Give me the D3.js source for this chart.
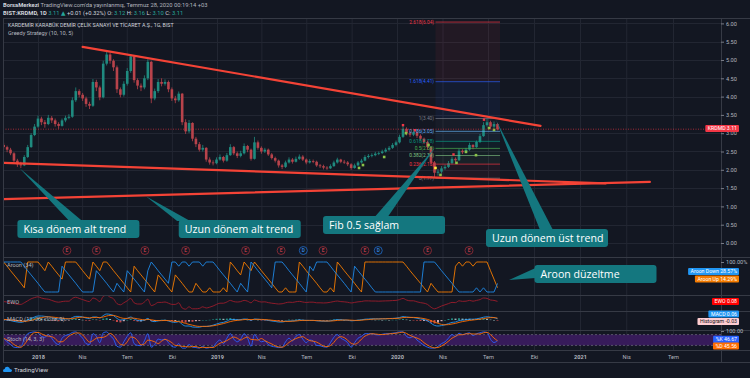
<!doctype html>
<html>
<head>
<meta charset="utf-8">
<script src="https://cdn.jsdelivr.net/npm/d3@7"></script>
<style>
  body { margin: 0; background: #131722; }
  svg { display: block; font-family: Roboto, "Open Sans", "DejaVu Sans", sans-serif; }
</style>
</head>
<body>
<svg width="750" height="378"></svg>
<script>
// KRDMD (first bar: week of 23 Oct 2017)
var firstWeek = "2017-10-23";
var firstOpen = 2.68;
var closes = [
  2.62,2.55,2.45,2.25,2.15,2.12,2.35,2.62,2.95,3.18,
  3.4,3.3,3.25,3.42,3.35,3.25,3.2,3.35,3.42,3.45,
  3.9,4.15,4.05,3.95,3.8,3.75,4.4,4.25,3.98,4.9,
  5.15,4.98,4.8,4.2,4.05,4.35,4.7,5.1,4.45,4.3,
  4.25,4.5,4.95,3.95,4.15,4.4,4.35,4.4,4.2,3.95,
  3.9,4.08,3.3,3.05,3.28,2.85,2.7,2.55,2.6,2.28,
  2.2,2.18,2.28,2.35,2.25,2.4,2.62,2.45,2.38,2.45,
  2.65,2.55,2.3,2.75,2.6,2.5,2.55,2.42,2.32,2.25,
  2.12,2.08,2.2,2.28,2.22,2.3,2.36,2.28,2.2,2.24,
  2.22,2.12,2.1,2.06,2.04,2.1,2.2,2.28,2.22,2.2,
  2.15,2.05,2.12,2.2,2.25,2.35,2.38,2.4,2.44,2.46,
  2.5,2.55,2.6,2.68,2.75,2.9,3.12,3.0,2.96,3.02,
  2.93,2.85,2.76,2.62,2.2,1.92,1.95,2.04,2.08,2.18,
  2.3,2.26,2.52,2.48,2.55,2.68,2.62,2.76,2.92,3.22,
  3.3,3.18,3.25,3.11];
var highs = [
  2.74,2.66,2.6,2.48,2.3,2.22,2.4,2.68,3.0,3.25,
  3.48,3.45,3.36,3.5,3.47,3.4,3.3,3.4,3.48,3.52,
  3.98,4.25,4.2,4.1,4.0,3.86,4.48,4.46,4.3,4.98,
  5.24,5.2,5.02,4.85,4.25,4.42,4.78,5.16,5.12,4.5,
  4.36,4.58,5.02,4.98,4.22,4.48,4.5,4.47,4.44,4.25,
  4.02,4.14,4.1,3.38,3.36,3.3,2.9,2.76,2.68,2.62,
  2.34,2.26,2.34,2.42,2.38,2.46,2.7,2.65,2.5,2.52,
  2.72,2.68,2.58,2.9,2.8,2.64,2.6,2.58,2.46,2.36,
  2.28,2.16,2.25,2.34,2.32,2.36,2.42,2.4,2.31,2.29,
  2.28,2.25,2.16,2.14,2.1,2.15,2.25,2.33,2.3,2.27,
  2.24,2.18,2.17,2.24,2.3,2.4,2.43,2.45,2.49,2.5,
  2.55,2.6,2.65,2.73,2.8,2.96,3.2,3.16,3.05,3.08,
  3.05,2.97,2.88,2.8,2.64,2.24,2.02,2.1,2.14,2.24,
  2.36,2.34,2.58,2.56,2.6,2.74,2.7,2.8,2.98,3.3,
  3.4,3.34,3.32,3.28];
var lows = [
  2.55,2.48,2.4,2.2,2.08,2.05,2.1,2.32,2.6,2.92,
  3.15,3.22,3.15,3.22,3.28,3.18,3.12,3.18,3.3,3.38,
  3.42,3.85,3.98,3.88,3.72,3.66,3.72,4.15,3.9,3.95,
  4.85,4.9,4.7,4.1,3.98,4.0,4.3,4.65,4.38,4.2,
  4.15,4.2,4.45,3.82,3.9,4.1,4.28,4.3,4.12,3.88,
  3.82,3.86,3.22,2.98,3.0,2.78,2.62,2.5,2.5,2.22,
  2.14,2.12,2.15,2.25,2.2,2.22,2.38,2.4,2.32,2.34,
  2.42,2.48,2.25,2.28,2.55,2.44,2.46,2.38,2.28,2.2,
  2.06,2.02,2.05,2.17,2.17,2.2,2.27,2.24,2.15,2.17,
  2.18,2.08,2.05,2.01,2.0,2.02,2.08,2.17,2.18,2.16,
  2.1,2.0,2.03,2.1,2.17,2.23,2.31,2.34,2.37,2.4,
  2.43,2.47,2.52,2.57,2.64,2.72,2.87,2.94,2.9,2.92,
  2.87,2.8,2.7,2.55,2.12,1.77,1.84,1.9,2.0,2.05,
  2.15,2.2,2.24,2.43,2.45,2.52,2.56,2.6,2.73,2.9,
  3.18,3.12,3.14,3.08];

// indicator panes, same weekly steps
var aroonUp = [
  100,86,71,57,43,29,14,100,100,100,
  100,86,71,100,86,71,57,43,100,100,
  100,100,86,71,57,43,100,86,71,100,
  100,86,71,57,43,29,14,0,86,71,
  57,43,29,14,0,57,43,29,14,0,
  57,43,29,14,0,0,29,14,0,0,
  14,0,0,0,14,0,100,86,71,57,
  100,86,71,100,86,71,57,43,29,14,
  0,0,14,0,0,0,100,86,71,57,
  43,29,14,0,0,14,0,100,86,71,
  57,43,29,14,0,100,100,100,100,100,
  100,100,100,100,100,100,100,86,71,57,
  43,29,14,0,29,14,0,0,0,0,
  0,86,100,86,100,100,86,100,100,100,
  100,71,43,14.29];
var aroonDown = [
  100,100,100,100,100,100,86,71,57,43,
  29,14,0,0,0,0,0,86,71,57,
  43,29,14,0,0,0,0,71,57,43,
  29,14,0,29,14,0,71,57,43,29,
  14,0,71,100,86,71,57,43,29,100,
  100,86,100,100,86,100,100,100,86,100,
  100,100,86,71,57,43,29,14,0,29,
  14,0,100,86,71,57,43,29,14,100,
  100,100,86,71,57,43,29,14,0,86,
  71,100,100,100,100,86,71,57,43,29,
  14,0,86,71,57,43,29,14,0,0,
  0,0,0,0,0,0,0,0,0,0,
  0,0,100,100,100,100,86,71,57,43,
  29,14,0,0,0,0,0,14,0,14,
  0,0,0,28.57];
var ewo = [
  0.05,0,-0.08,-0.2,-0.28,-0.3,-0.1,0.15,0.4,0.55,
  0.65,0.5,0.4,0.35,0.2,0.05,-0.02,0.05,0.1,0.1,
  0.45,0.6,0.45,0.3,0.15,0.05,0.5,0.35,0.05,0.7,
  0.85,0.6,0.4,-0.2,-0.35,-0.1,0.15,0.45,-0.1,-0.25,
  -0.25,0,0.35,-0.45,-0.3,-0.05,-0.05,0,-0.15,-0.3,
  -0.3,-0.1,-0.75,-0.9,-0.6,-0.85,-0.85,-0.8,-0.6,-0.75,
  -0.65,-0.5,-0.3,-0.15,-0.15,0,0.2,0.05,0,0.05,
  0.2,0.1,-0.1,0.25,0.1,0,0.02,-0.08,-0.15,-0.2,
  -0.25,-0.22,-0.1,-0.02,-0.05,0.03,0.08,0,-0.06,-0.02,
  -0.02,-0.1,-0.1,-0.12,-0.1,-0.03,0.06,0.12,0.05,0.02,
  -0.03,-0.12,-0.05,0.02,0.06,0.14,0.14,0.12,0.12,0.1,
  0.12,0.14,0.15,0.18,0.2,0.3,0.45,0.25,0.15,0.15,
  0.02,-0.08,-0.15,-0.3,-0.65,-0.85,-0.7,-0.5,-0.35,-0.2,
  -0.05,-0.08,0.15,0.08,0.1,0.2,0.1,0.2,0.3,0.5,
  0.45,0.25,0.2,0.08];
var macd = [
  0.02,0,-0.03,-0.07,-0.1,-0.12,-0.08,0,0.08,0.15,
  0.2,0.2,0.18,0.16,0.12,0.08,0.05,0.05,0.05,0.05,
  0.12,0.18,0.18,0.15,0.1,0.07,0.15,0.15,0.1,0.22,
  0.3,0.28,0.22,0.08,0,0.02,0.08,0.15,0.05,-0.02,
  -0.04,0,0.08,-0.05,-0.08,-0.04,-0.02,-0.01,-0.05,-0.1,
  -0.12,-0.08,-0.22,-0.3,-0.3,-0.35,-0.36,-0.36,-0.32,-0.32,
  -0.3,-0.26,-0.2,-0.15,-0.12,-0.06,0.02,0.02,0.01,0.02,
  0.05,0.04,-0.02,0.05,0.04,0.02,0.01,-0.02,-0.05,-0.07,
  -0.1,-0.1,-0.07,-0.05,-0.05,-0.02,0,-0.01,-0.02,-0.02,
  -0.02,-0.04,-0.05,-0.06,-0.06,-0.04,-0.01,0.02,0.01,0,
  -0.01,-0.04,-0.03,-0.01,0.01,0.04,0.05,0.06,0.06,0.06,
  0.06,0.07,0.07,0.08,0.09,0.12,0.17,0.15,0.13,0.12,
  0.09,0.05,0.02,-0.04,-0.16,-0.27,-0.3,-0.28,-0.24,-0.18,
  -0.12,-0.1,-0.03,-0.01,0.01,0.04,0.04,0.06,0.09,0.14,
  0.16,0.14,0.12,0.06];
var signal = [
  0.03,0.02,0.01,-0.01,-0.04,-0.06,-0.07,-0.05,-0.02,0.03,
  0.08,0.12,0.15,0.16,0.15,0.13,0.11,0.09,0.07,0.06,
  0.07,0.1,0.13,0.14,0.13,0.11,0.12,0.13,0.12,0.15,
  0.2,0.23,0.23,0.18,0.12,0.08,0.08,0.1,0.09,0.06,
  0.03,0.01,0.03,0.01,-0.02,-0.03,-0.03,-0.02,-0.03,-0.05,
  -0.07,-0.08,-0.12,-0.17,-0.22,-0.26,-0.3,-0.32,-0.32,-0.32,
  -0.31,-0.29,-0.26,-0.22,-0.18,-0.13,-0.08,-0.04,-0.02,0,
  0.02,0.03,0.02,0.03,0.03,0.03,0.02,0.01,-0.01,-0.03,
  -0.05,-0.07,-0.07,-0.07,-0.06,-0.05,-0.03,-0.02,-0.02,-0.02,
  -0.02,-0.03,-0.04,-0.05,-0.05,-0.05,-0.04,-0.02,-0.01,0,
  0,-0.01,-0.02,-0.02,-0.01,0.01,0.02,0.04,0.05,0.05,
  0.06,0.06,0.07,0.07,0.08,0.09,0.12,0.13,0.13,0.13,
  0.12,0.1,0.07,0.03,-0.03,-0.1,-0.17,-0.22,-0.24,-0.23,
  -0.2,-0.17,-0.12,-0.08,-0.05,-0.02,0,0.02,0.04,0.07,
  0.1,0.12,0.12,0.09];
var stochK = [
  60,40,25,10,8,12,55,85,92,95,
  90,70,65,80,60,35,25,60,75,80,
  92,95,80,60,30,25,85,70,35,90,
  95,75,55,15,10,40,70,90,30,20,
  18,45,85,10,25,55,50,55,35,15,
  10,30,5,5,25,10,8,5,15,5,
  8,12,35,50,30,60,85,55,40,55,
  85,60,15,80,55,40,45,25,15,12,
  8,10,40,60,45,70,80,55,35,50,
  45,20,18,12,10,35,65,80,60,50,
  35,10,35,60,70,85,85,85,80,78,
  82,85,85,88,90,95,95,70,62,70,
  50,35,20,10,5,5,15,30,40,60,
  80,70,88,80,85,90,75,85,90,95,
  92,54,36,46.67];

// Fibonacci retracement drawn on the chart
var fibLow = 1.77, fibHigh = 3.40;
var fibStart = "2020-03-18", fibEnd = "2020-07-25";
var fibLevels = [0, 0.236, 0.382, 0.5, 0.618, 0.786, 1, 1.618, 2.618];

// hand-drawn trend lines [date, price]
var trendLines = [
  [["2018-04-02", 5.36], ["2020-10-14", 3.20]],
  [["2017-10-24", 2.19], ["2021-02-20", 1.63]],
  [["2017-10-22", 1.20], ["2021-05-17", 1.67]]
];

var greedyLong = [["2019-10-16",2.05],["2019-10-24",2.13],["2019-12-06",2.35],["2020-01-19",3.0],
  ["2020-03-04",2.68],["2020-03-28",1.86],["2020-04-29",2.19],["2020-05-18",2.49],
  ["2020-06-07",2.4],["2020-07-03",3.14],["2020-07-13",3.09]];
var greedyWarn = [["2020-03-18",2.05]];
var greedyShort = [["2020-01-13",3.22],["2020-02-06",3.08],["2020-04-23",2.42],["2020-06-23",3.37]];

var events = [["2018-03-01","E"],["2018-04-30","E"],["2018-08-07","E"],["2018-10-29","E"],
  ["2019-02-28","E"],["2019-05-11","E"],["2019-06-25","D"],["2019-08-04","E"],
  ["2019-10-28","E"],["2019-11-24","D"],["2020-03-02","E"],["2020-05-24","E"]];

var callouts = [
  {text: "Kısa dönem alt trend", tip: ["2017-11-24", 2.05], box: ["2017-11-20", 0.63], base: "2018-03-19"},
  {text: "Uzun dönem alt trend", tip: ["2018-08-09", 1.28], box: ["2018-10-15", 0.63], base: "2018-10-25"},
  {text: "Fib 0.5 sağlam", tip: ["2020-03-18", 2.62], box: ["2019-08-04", 0.74], base: "2019-11-30"},
  {text: "Uzun dönem üst trend", tip: ["2020-07-17", 3.36], box: ["2020-06-27", 0.38], base: "2020-10-26"}
];
var aroonCallout = {text: "Aroon düzeltme", tip: ["2020-08-12", 40], box: ["2020-10-02", 90], base: 63};

var priceTicks = [0, 0.5, 1, 1.5, 2, 2.5, 3, 3.5, 4, 4.5, 5, 5.5, 6];
var timeTicks = ["2018-01-01","2018-04-01","2018-07-01","2018-10-01","2019-01-01","2019-04-01","2019-07-01",
  "2019-10-01","2020-01-01","2020-04-01","2020-07-01","2020-10-01","2021-01-01","2021-04-01","2021-07-01"];
var timeLabels = ["2018","Nis","Tem","Eki","2019","Nis","Tem","Eki","2020","Nis","Tem","Eki","2021","Nis","Tem"];

var parse = d3.timeParse("%Y-%m-%d");
var start = parse(firstWeek);
var bars = closes.map(function(c, i) {
  return {date: d3.timeDay.offset(start, 7 * i), open: i ? closes[i - 1] : firstOpen,
          close: c, high: highs[i], low: lows[i]};
});
// %D is the 3-bar average of %K, histogram is MACD minus signal
var stochD = stochK.map(function(k, i) { return d3.mean(stochK.slice(Math.max(0, i - 2), i + 1)); });
var hist = macd.map(function(m, i) { return m - signal[i]; });

var L = 3, R = 721;
var svg = d3.select("svg");
svg.append("rect").attr("width", 750).attr("height", 378).attr("fill", "#131722");

var x = d3.scaleTime()
  .domain(["2018-01-01","2019-01-01","2020-01-01","2021-01-01","2021-07-01"].map(parse))
  .range([38, 217, 397, 580, 673]);
var y = d3.scaleLinear().domain([0, 6]).range([243, 23.4]);
var yA = d3.scaleLinear().domain([0, 100]).range([292, 262]);
var yE = d3.scaleLinear().domain([-1, 1]).range([310, 294]);
var yM = d3.scaleLinear().domain([-0.45, 0.45]).range([329, 311]);
var yS = d3.scaleLinear().domain([0, 100]).range([349, 331]);
var xd = function(d) { return x(d.date); };

var defs = svg.append("defs");
function clip(id, y0, y1) {
  defs.append("clipPath").attr("id", id).append("rect")
    .attr("x", L).attr("y", y0).attr("width", R - L).attr("height", y1 - y0);
  return "url(#" + id + ")";
}

// grid
var grid = svg.append("g").attr("stroke", "#222632").attr("stroke-width", 1);
grid.selectAll("line.v").data(timeTicks).enter().append("line")
  .attr("x1", function(d) { return x(parse(d)) + 0.5; }).attr("x2", function(d) { return x(parse(d)) + 0.5; })
  .attr("y1", 18).attr("y2", 350);
grid.selectAll("line.h").data(priceTicks).enter().append("line")
  .attr("x1", L).attr("x2", R).attr("y1", function(d) { return Math.round(y(d)) + 0.5; })
  .attr("y2", function(d) { return Math.round(y(d)) + 0.5; });

// main pane
var main = svg.append("g").attr("clip-path", clip("cMain", 18, 257));

var fx0 = x(parse(fibStart)), fx1 = x(parse(fibEnd));
var fibColors = ["#787b86", "#f23645", "#81c784", "#4caf50", "#089981", "#64b5f6", "#787b86", "#2962ff", "#f23645"];
var fib = fibLevels.map(function(lv, i) {
  return {lv: lv, price: fibLow + lv * (fibHigh - fibLow), color: fibColors[i]};
});
main.selectAll("rect.fib").data(fib.slice(1)).enter().append("rect")
  .attr("x", fx0).attr("width", fx1 - fx0)
  .attr("y", function(d) { return y(d.price); })
  .attr("height", function(d, i) { return y(fib[i].price) - y(d.price); })
  .attr("fill", function(d) { return d.color; })
  .attr("opacity", function(d) { return d.lv > 1 ? 0.07 : 0.06; });

var cg = main.append("g");
cg.selectAll("line").data(bars).enter().append("line")
  .attr("x1", xd).attr("x2", xd)
  .attr("y1", function(d) { return y(d.high); }).attr("y2", function(d) { return y(d.low); })
  .attr("stroke", function(d) { return d.close >= d.open ? "#1f8a7f" : "#b8434b"; }).attr("stroke-width", 0.8);
cg.selectAll("rect").data(bars).enter().append("rect")
  .attr("x", function(d) { return x(d.date) - 1.3; }).attr("width", 2.6)
  .attr("y", function(d) { return y(Math.max(d.open, d.close)); })
  .attr("height", function(d) { return Math.max(0.8, Math.abs(y(d.open) - y(d.close))); })
  .attr("fill", function(d) { return d.close >= d.open ? "#1f8a7f" : "#b8434b"; });

main.selectAll("line.fib").data(fib).enter().append("line")
  .attr("x1", fx0).attr("x2", fx1)
  .attr("y1", function(d) { return y(d.price); }).attr("y2", function(d) { return y(d.price); })
  .attr("stroke", function(d) { return d.color; }).attr("stroke-width", 0.8).attr("opacity", 0.85);
main.selectAll("text.fib").data(fib).enter().append("text")
  .attr("x", fx0 - 1.5).attr("y", function(d) { return y(d.price) + 1.5; })
  .attr("text-anchor", "end").attr("font-size", 4.8)
  .attr("fill", function(d) { return d.color; })
  .text(function(d) { return d.lv + "(" + d.price.toFixed(2) + ")"; });

main.selectAll("rect.gl").data(greedyLong).enter().append("rect")
  .attr("x", function(d) { return x(parse(d[0])) - 1.3; }).attr("y", function(d) { return y(d[1]) - 1.3; })
  .attr("width", 2.6).attr("height", 2.6).attr("fill", "#8bc34a");
main.selectAll("rect.gw").data(greedyWarn).enter().append("rect")
  .attr("x", function(d) { return x(parse(d[0])) - 1.3; }).attr("y", function(d) { return y(d[1]) - 1.3; })
  .attr("width", 2.6).attr("height", 2.6).attr("fill", "#ffeb3b");
main.selectAll("rect.gs").data(greedyShort).enter().append("rect")
  .attr("x", function(d) { return x(parse(d[0])) - 1.2; }).attr("y", function(d) { return y(d[1]) - 1.2; })
  .attr("width", 2.4).attr("height", 2.4).attr("fill", "#f23645");

// last price line
main.append("line").attr("x1", L).attr("x2", R)
  .attr("y1", y(closes[closes.length - 1])).attr("y2", y(closes[closes.length - 1]))
  .attr("stroke", "#f23645").attr("stroke-width", 0.8).attr("stroke-dasharray", "1,1.5").attr("opacity", 0.8);

main.selectAll("line.trend").data(trendLines).enter().append("line")
  .attr("x1", function(d) { return x(parse(d[0][0])); }).attr("y1", function(d) { return y(d[0][1]); })
  .attr("x2", function(d) { return x(parse(d[1][0])); }).attr("y2", function(d) { return y(d[1][1]); })
  .attr("stroke", "#f44336").attr("stroke-width", 2.2).attr("stroke-linecap", "round");

// callouts
var teal = "#14777f";
function drawCallout(g, c, ys, side) {
  var bx = x(parse(c.box[0])), by = ys(c.box[1]);
  var tx = x(parse(c.tip[0])), ty = ys(c.tip[1]);
  var pts;
  if (side === "left") {
    var yb = ys(c.base);
    pts = [[tx, ty], [bx + 1, yb - 5], [bx + 1, yb + 5]];
  } else {
    var xb = x(parse(c.base));
    pts = [[tx, ty], [xb - 6.5, by + 1], [xb + 6.5, by + 1]];
  }
  g.append("path").attr("d", d3.line()(pts) + "Z").attr("fill", teal);
  g.append("rect").attr("x", bx).attr("y", by).attr("width", 122).attr("height", 18)
    .attr("rx", 3).attr("fill", teal);
  g.append("text").attr("x", bx + 6).attr("y", by + 13).attr("fill", "#ffffff")
    .attr("font-family", "'Open Sans', sans-serif").attr("font-size", 10.6).text(c.text);
}
var calls = svg.append("g").attr("clip-path", "url(#cMain)");
callouts.forEach(function(c) { drawCallout(calls, c, y, "top"); });

// earnings / dividend marks
var ev = svg.append("g");
ev.selectAll("circle").data(events).enter().append("circle")
  .attr("cx", function(d) { return x(parse(d[0])); }).attr("cy", 250.5).attr("r", 4)
  .attr("fill", "#131722").attr("stroke-width", 0.9)
  .attr("stroke", function(d) { return d[1] === "D" ? "#1e63b8" : "#8c2a35"; });
ev.selectAll("text").data(events).enter().append("text")
  .attr("x", function(d) { return x(parse(d[0])); }).attr("y", 252.3).attr("text-anchor", "middle")
  .attr("font-size", 4.8).attr("font-weight", "bold")
  .attr("fill", function(d) { return d[1] === "D" ? "#2f7fd8" : "#b33a47"; }).text(function(d) { return d[1]; });

// aroon pane
var aro = svg.append("g").attr("clip-path", clip("cAroon", 257, 295));
aro.append("path").datum(aroonUp).attr("fill", "none").attr("stroke", "#f57c00").attr("stroke-width", 0.9)
  .attr("d", d3.line().x(function(d, i) { return x(bars[i].date); }).y(function(d) { return yA(d); }));
aro.append("path").datum(aroonDown).attr("fill", "none").attr("stroke", "#1e88e5").attr("stroke-width", 0.9)
  .attr("d", d3.line().x(function(d, i) { return x(bars[i].date); }).y(function(d) { return yA(d); }));
drawCallout(svg.append("g"), aroonCallout, yA, "left");

// EWO pane
var ew = svg.append("g").attr("clip-path", clip("cEwo", 295, 311));
ew.append("path").datum(ewo).attr("fill", "none").attr("stroke", "#9c1c2b").attr("stroke-width", 0.9)
  .attr("d", d3.line().curve(d3.curveMonotoneX).x(function(d, i) { return x(bars[i].date); }).y(function(d) { return yE(d); }));

// MACD pane
var mc = svg.append("g").attr("clip-path", clip("cMacd", 311, 330));
mc.selectAll("rect").data(hist).enter().append("rect")
  .attr("x", function(d, i) { return x(bars[i].date) - 1; }).attr("width", 2)
  .attr("y", function(d) { return Math.min(yM(0), yM(d)); })
  .attr("height", function(d) { return Math.max(0.5, Math.abs(yM(d) - yM(0))); })
  .attr("fill", function(d, i) {
    var up = i === 0 || d >= hist[i - 1];
    if (d >= 0) return up ? "#26a69a" : "#b2dfdb";
    return up ? "#ffcdd2" : "#ef5350";
  }).attr("opacity", 0.8);
mc.append("path").datum(macd).attr("fill", "none").attr("stroke", "#2196f3").attr("stroke-width", 0.9)
  .attr("d", d3.line().curve(d3.curveMonotoneX).x(function(d, i) { return x(bars[i].date); }).y(function(d) { return yM(d); }));
mc.append("path").datum(signal).attr("fill", "none").attr("stroke", "#ff6d00").attr("stroke-width", 0.9)
  .attr("d", d3.line().curve(d3.curveMonotoneX).x(function(d, i) { return x(bars[i].date); }).y(function(d) { return yM(d); }));

// Stoch pane
var st = svg.append("g").attr("clip-path", clip("cStoch", 330, 350));
st.append("rect").attr("x", L).attr("width", R - L).attr("y", yS(80)).attr("height", yS(20) - yS(80))
  .attr("fill", "#371b5a");
[80, 20].forEach(function(v) {
  st.append("line").attr("x1", L).attr("x2", R).attr("y1", yS(v)).attr("y2", yS(v))
    .attr("stroke", "#787b86").attr("stroke-width", 0.6).attr("stroke-dasharray", "2,2");
});
st.append("path").datum(stochK).attr("fill", "none").attr("stroke", "#2962ff").attr("stroke-width", 0.9)
  .attr("d", d3.line().curve(d3.curveMonotoneX).x(function(d, i) { return x(bars[i].date); }).y(function(d) { return yS(d); }));
st.append("path").datum(stochD).attr("fill", "none").attr("stroke", "#ff6d00").attr("stroke-width", 0.9)
  .attr("d", d3.line().curve(d3.curveMonotoneX).x(function(d, i) { return x(bars[i].date); }).y(function(d) { return yS(d); }));

// frames
var fr = svg.append("g").attr("stroke", "#363a45").attr("stroke-width", 1);
[18, 257, 295, 311, 330, 350, 362].forEach(function(v) {
  fr.append("line").attr("x1", L).attr("x2", 750).attr("y1", v + 0.5).attr("y2", v + 0.5);
});
fr.append("line").attr("x1", L + 0.5).attr("x2", L + 0.5).attr("y1", 18).attr("y2", 362);
fr.append("line").attr("x1", R + 0.5).attr("x2", R + 0.5).attr("y1", 18).attr("y2", 362);

// axes
function styleAxis(g) {
  g.select(".domain").remove();
  g.selectAll("line").attr("stroke", "#787b86");
  g.selectAll("text").attr("fill", "#b2b5be").attr("font-size", 5.6).attr("font-family", "Roboto, sans-serif");
}
svg.append("g").attr("transform", "translate(" + R + ",0)")
  .call(d3.axisRight(y).tickValues(priceTicks).tickFormat(d3.format(".2f")).tickSize(3).tickPadding(2))
  .call(styleAxis);
svg.append("g").attr("transform", "translate(" + R + ",0)")
  .call(d3.axisRight(yA).tickValues([100]).tickFormat(function(d) { return d.toFixed(2) + "%"; }).tickSize(3).tickPadding(2))
  .call(styleAxis);
svg.append("g").attr("transform", "translate(" + R + ",0)")
  .call(d3.axisRight(yS).tickValues([100]).tickFormat(d3.format(".2f")).tickSize(3).tickPadding(2))
  .call(styleAxis);
svg.append("g").attr("transform", "translate(0,350)")
  .call(d3.axisBottom(x).tickValues(timeTicks.map(parse)).tickFormat(function(d, i) { return timeLabels[i]; })
    .tickSize(0).tickPadding(5))
  .call(styleAxis)
  .selectAll("text").attr("font-weight", function(d, i) { return /^\d/.test(timeLabels[i]) ? "bold" : "normal"; });

// value tags on the price scale
function tag(yc, label, bg, fg) {
  var g = svg.append("g");
  var t = g.append("text").attr("x", 737).attr("y", yc + 1.9).attr("text-anchor", "end")
    .attr("font-size", 5.2).attr("fill", fg).text(label);
  var w = t.node().getComputedTextLength();
  g.insert("rect", "text").attr("x", 737 - w - 2.5).attr("y", yc - 3.6).attr("width", w + 4.5).attr("height", 7.2)
    .attr("rx", 1).attr("fill", bg);
}
var last = closes.length - 1;
tag(128.5, "KRDMD  " + closes[last].toFixed(2), "#f23645", "#ffffff");
tag(271.5, "Aroon Down  " + aroonDown[last].toFixed(2) + "%", "#2196f3", "#ffffff");
tag(279, "Aroon Up  " + aroonUp[last].toFixed(2) + "%", "#f57c00", "#ffffff");
tag(301.5, "EWO  " + ewo[last].toFixed(2), "#ff0000", "#ffffff");
tag(314, "MACD  " + macd[last].toFixed(2), "#2196f3", "#ffffff");
tag(321.5, "Histogram  " + hist[last].toFixed(2), "#ffcdd2", "#131722");
tag(339.3, "%K  " + stochK[last].toFixed(2), "#2962ff", "#ffffff");
tag(346, "%D  " + stochD[last].toFixed(2), "#ff6d00", "#ffffff");

// pane titles
var lab = svg.append("g").attr("font-size", 5.6).attr("fill", "#b2b5be");
lab.append("text").attr("x", 8).attr("y", 27).attr("font-size", 5.3).attr("fill", "#d1d4dc")
  .text("KARDEMİR KARABÜK DEMİR ÇELİK SANAYİ VE TİCARET A.Ş., 1G, BIST");
lab.append("text").attr("x", 8).attr("y", 35).text("Greedy Strategy (10, 10, 5)");
lab.append("text").attr("x", 7).attr("y", 267).text("Aroon (34)");
lab.append("text").attr("x", 7).attr("y", 304).text("EWO");
lab.append("text").attr("x", 7).attr("y", 320.5).text("MACD (12, 26, close, 9)");
lab.append("text").attr("x", 7).attr("y", 340.5).text("Stoch (14, 3, 3)");

// header
var h1 = svg.append("text").attr("x", 3).attr("y", 7).attr("font-size", 5.8).attr("fill", "#b2b5be");
h1.append("tspan").attr("font-weight", "bold").attr("fill", "#d1d4dc").text("BorsaMerkezi ");
h1.append("tspan").text("TradingView.com'da yayınlanmış, Temmuz 28, 2020 00:19:14 +03");
var h2 = svg.append("text").attr("x", 3).attr("y", 15).attr("font-size", 5.8).attr("fill", "#d1d4dc");
h2.append("tspan").attr("font-weight", "bold").text("BIST:KRDMD, 1D ");
h2.append("tspan").attr("fill", "#26a69a").text("3.11 ▲ ");
h2.append("tspan").text("+0.01 (+0.32%) O: ");
h2.append("tspan").attr("fill", "#26a69a").text("3.12 ");
h2.append("tspan").text("H: ");
h2.append("tspan").attr("fill", "#26a69a").text("3.16 ");
h2.append("tspan").text("L: ");
h2.append("tspan").attr("fill", "#26a69a").text("3.10 ");
h2.append("tspan").text("C: ");
h2.append("tspan").attr("fill", "#26a69a").text("3.11");

// footer logo
var logo = svg.append("g").attr("transform", "translate(3,366)");
logo.append("path").attr("d", "M1,6 Q0,6 0,4.5 Q0,3 1.6,3 Q2,0.5 4.6,0.8 Q6.5,1 7,3 Q9,3 9,4.6 Q9,6 7.6,6 Z")
  .attr("fill", "#2196f3");
logo.append("text").attr("x", 11).attr("y", 6).attr("font-size", 6.2).attr("fill", "#d1d4dc").text("TradingView");
</script>
</body>
</html>
